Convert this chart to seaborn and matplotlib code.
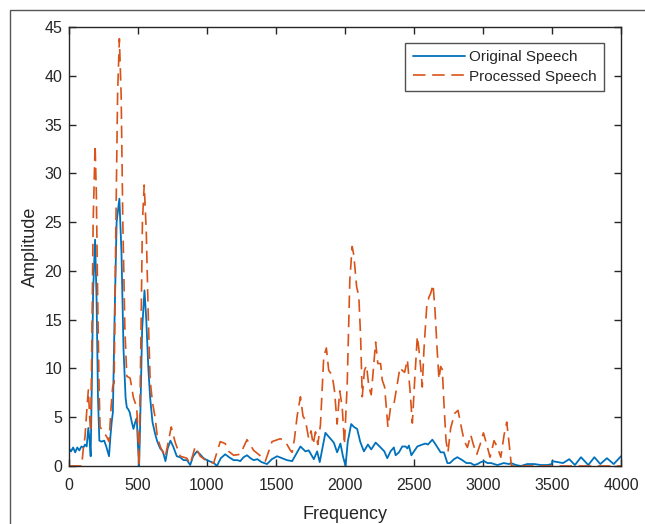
import matplotlib
matplotlib.use("Agg")
import matplotlib.pyplot as plt
from matplotlib.patches import Rectangle
import seaborn as sns
import pandas as pd

# ---- data ----
orig_freq = [0, 15, 30, 45, 60, 75, 90, 105, 116, 128, 140, 150, 157, 165, 175, 189, 200, 210, 220, 235,
             255, 270, 290, 300, 310, 318, 330, 345, 365, 380, 395, 410, 419, 430, 440, 455, 467, 480, 491, 500,
             508, 515, 530, 547, 560, 575, 588, 605, 624, 640, 661, 680, 699, 715, 735, 755, 781, 805, 830, 855,
             878, 900, 927, 950, 975, 1000, 1024, 1050, 1072, 1100, 1132, 1160, 1193, 1220, 1241, 1265, 1290, 1315, 1338, 1365,
             1395, 1435, 1470, 1508, 1545, 1580, 1617, 1641, 1677, 1713, 1737, 1774, 1798, 1817, 1858, 1895, 1919, 1943, 1967, 1985,
             2004, 2020, 2045, 2065, 2088, 2110, 2137, 2166, 2190, 2222, 2258, 2285, 2306, 2330, 2354, 2367, 2391, 2415, 2439, 2452,
             2463, 2481, 2524, 2560, 2584, 2601, 2633, 2657, 2693, 2717, 2742, 2760, 2790, 2814, 2850, 2880, 2911, 2935, 2960, 2985,
             3008, 3032, 3060, 3080, 3105, 3150, 3190, 3202, 3240, 3274, 3320, 3371, 3420, 3468, 3498, 3502, 3540, 3580, 3625, 3666,
             3710, 3763, 3807, 3850, 3898, 3947, 4000]
orig_amp = [1.8, 1.5, 1.9, 1.4, 1.9, 1.6, 2.0, 1.9, 2.2, 2.0, 3.9, 2.5, 1.0, 8.0, 18.0, 23.2, 17.0, 7.0, 2.6, 2.5,
            2.6, 2.0, 1.0, 3.0, 4.6, 5.5, 15.0, 25.0, 27.4, 22.0, 12.0, 7.0, 6.0, 5.8, 5.5, 4.5, 3.8, 4.5, 4.9, 2.0,
            0.0, 4.0, 14.0, 18.0, 15.0, 10.0, 7.0, 4.5, 3.3, 2.5, 1.8, 1.5, 0.5, 1.8, 2.6, 2.0, 1.0, 0.9, 0.6, 0.6,
            0.1, 1.0, 1.5, 1.2, 0.8, 0.6, 0.45, 0.3, 0.0, 0.8, 1.2, 0.9, 0.6, 0.6, 0.5, 0.9, 1.1, 0.8, 0.6, 0.7,
            0.4, 0.2, 0.7, 1.0, 0.8, 0.6, 0.5, 1.1, 2.0, 1.5, 1.6, 0.7, 1.5, 0.4, 3.4, 2.8, 2.4, 1.4, 2.3, 1.0,
            0.0, 2.5, 4.3, 4.0, 3.8, 2.5, 1.5, 2.2, 1.7, 2.4, 1.9, 1.5, 0.8, 1.5, 1.9, 1.1, 1.4, 2.0, 2.0, 1.8,
            2.1, 1.1, 2.0, 2.2, 2.3, 2.2, 2.7, 2.2, 1.4, 1.4, 0.3, 0.3, 0.7, 0.9, 0.6, 0.3, 0.3, 0.1, 0.2, 0.4,
            0.5, 0.3, 0.3, 0.2, 0.1, 0.3, 0.2, 0.3, 0.1, 0.0, 0.2, 0.2, 0.1, 0.1, 0.2, 0.5, 0.4, 0.3, 0.7, 0.1,
            0.9, 0.1, 0.9, 0.2, 0.8, 0.2, 1.0]

proc_freq = [0, 50, 92, 105, 116, 128, 140, 150, 157, 165, 175, 189, 198, 208, 218, 225, 250, 273, 290, 305,
             317, 327, 340, 352, 365, 378, 390, 405, 419, 443, 455, 467, 491, 500, 508, 520, 532, 545, 560, 575,
             588, 605, 624, 640, 661, 697, 720, 741, 770, 806, 854, 878, 915, 951, 999, 1048, 1096, 1132, 1157, 1193,
             1241, 1290, 1338, 1382, 1423, 1471, 1532, 1568, 1604, 1617, 1633, 1653, 1677, 1696, 1713, 1737, 1754, 1769, 1786, 1803,
             1822, 1846, 1865, 1882, 1907, 1924, 1943, 1962, 1980, 1996, 2016, 2035, 2052, 2064, 2084, 2100, 2113, 2125, 2141, 2156,
             2173, 2190, 2205, 2222, 2238, 2258, 2270, 2287, 2311, 2330, 2354, 2379, 2398, 2415, 2432, 2452, 2471, 2488, 2505, 2524,
             2536, 2548, 2560, 2572, 2592, 2608, 2621, 2638, 2652, 2669, 2681, 2693, 2705, 2717, 2732, 2746, 2766, 2795, 2819, 2844,
             2863, 2887, 2911, 2930, 2955, 2979, 3003, 3027, 3051, 3080, 3105, 3129, 3153, 3172, 3190, 3206, 4000]
proc_amp = [0.0, 0.0, 0.0, 2.0, 3.0, 5.5, 7.8, 5.0, 3.5, 12.0, 25.0, 32.9, 28.0, 17.0, 8.0, 4.0, 3.5, 3.0, 2.5, 6.0,
            8.2, 8.5, 25.0, 38.0, 43.8, 38.0, 25.0, 14.0, 9.2, 9.0, 8.0, 7.0, 6.0, 3.0, 0.0, 12.0, 25.0, 28.8, 24.0, 15.0,
            8.8, 6.5, 5.0, 3.0, 2.0, 0.9, 2.5, 4.0, 2.4, 1.0, 0.8, 0.2, 2.0, 1.0, 0.5, 0.3, 2.5, 2.3, 1.5, 1.1,
            1.2, 2.7, 1.6, 1.1, 0.5, 2.5, 2.8, 2.5, 1.6, 1.4, 2.7, 5.1, 7.1, 5.1, 4.7, 2.8, 3.6, 2.2, 3.5, 2.2,
            4.2, 11.2, 12.1, 9.8, 9.3, 7.7, 4.3, 7.7, 6.0, 2.2, 8.4, 19.1, 22.5, 21.6, 18.4, 17.4, 13.3, 7.1, 9.8, 10.3,
            8.1, 7.3, 9.8, 12.7, 10.5, 10.5, 8.8, 8.1, 4.0, 6.0, 6.3, 8.4, 10.1, 9.8, 9.6, 10.9, 7.8, 4.4, 8.8, 13.3,
            11.9, 10.2, 8.1, 11.9, 16.3, 17.3, 17.7, 18.6, 16.0, 11.6, 8.9, 10.2, 9.9, 6.4, 2.6, 1.4, 3.9, 5.4, 5.7, 3.9,
            2.6, 1.9, 3.2, 2.2, 1.2, 2.2, 3.4, 2.2, 0.9, 2.6, 1.9, 0.9, 3.2, 4.5, 2.2, 0.0, 0.0]

x_ticks = [0, 500, 1000, 1500, 2000, 2500, 3000, 3500, 4000]
y_ticks = [0, 5, 10, 15, 20, 25, 30, 35, 40, 45]

orig_df = pd.DataFrame({"Frequency": orig_freq, "Amplitude": orig_amp})
proc_df = pd.DataFrame({"Frequency": proc_freq, "Amplitude": proc_amp})

sns.set_style("white")
plt.rcParams["font.family"] = ["Liberation Sans", "DejaVu Sans"]

fig = plt.figure(figsize=(6.45, 5.24), dpi=100)
ax = fig.add_axes([69 / 645, 1 - 466 / 524, (621 - 69) / 645, (466 - 27) / 524])

sns.lineplot(data=orig_df, x="Frequency", y="Amplitude", ax=ax, color="#0072BD",
             linewidth=1.3, label="Original Speech", estimator=None)
sns.lineplot(data=proc_df, x="Frequency", y="Amplitude", ax=ax, color="#D95319",
             linewidth=1.2, linestyle=(0, (7.5, 4)), label="Processed Speech", estimator=None)

ax.set_xlim(0, 4000)
ax.set_ylim(0, 45)
ax.set_xticks(x_ticks)
ax.set_yticks(y_ticks)
ax.tick_params(direction="in", length=5, width=1, colors="#262626", labelsize=11.5,
               top=True, right=True, bottom=True, left=True, labelcolor="#262626")
ax.tick_params(axis="x", pad=9)
ax.tick_params(axis="y", pad=5)
for s in ax.spines.values():
    s.set_color("#262626")
    s.set_linewidth(1.0)
ax.set_xlabel("Frequency", fontsize=13, color="#262626", labelpad=9)
ax.set_ylabel("Amplitude", fontsize=13, color="#262626", labelpad=4)

leg = ax.legend(loc="upper right", bbox_to_anchor=(0.97, 0.964), fontsize=11,
                frameon=True, fancybox=False, handlelength=3.4, handletextpad=0.3,
                borderpad=0.5, labelspacing=0.35, borderaxespad=0)
leg.get_frame().set_edgecolor("#262626")
leg.get_frame().set_linewidth(1.0)

fig.add_artist(Rectangle((10 / 645, -0.02), 1.2, 1 - 10 / 524 + 0.02, transform=fig.transFigure,
                         fill=False, edgecolor="#555555", linewidth=1.0))

fig.savefig("out.png", dpi=100, facecolor="white")
